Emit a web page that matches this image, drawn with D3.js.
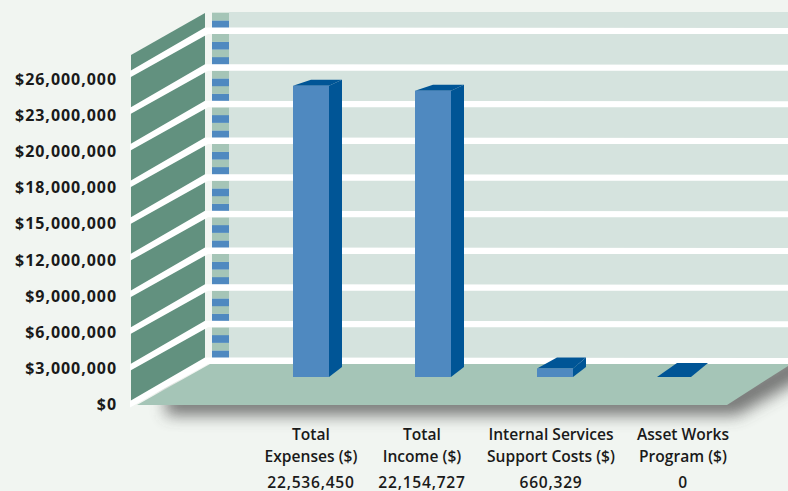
<!DOCTYPE html>
<html>
<head>
<meta charset="utf-8">
<script src="https://cdn.jsdelivr.net/npm/d3@7/dist/d3.min.js"></script>
<style>
  html, body { margin: 0; padding: 0; background: #f1f5f1; overflow: hidden; }
  svg { display: block; }
  text { font-family: "Open Sans", Lato, sans-serif; fill: #1a1a1a; }
</style>
</head>
<body>
<svg id="chart" width="788" height="491"></svg>
<script>
// Budget summary as a pseudo-3D column chart.
const tickLabels = ["$0", "$3,000,000", "$6,000,000", "$9,000,000", "$12,000,000",
  "$15,000,000", "$18,000,000", "$20,000,000", "$23,000,000", "$26,000,000"];
const categoryLine1 = ["Total", "Total", "Internal Services", "Asset Works"];
const categoryLine2 = ["Expenses ($)", "Income ($)", "Support Costs ($)", "Program ($)"];
const amounts = [22536450, 22154727, 660329, 0];

const W = 788, H = 491;
const svg = d3.select("#chart");
const poly = pts => pts.map(p => p.join(",")).join(" ");

// Room geometry
const wallFront = 131, wallBack = 205, stripeL = 212, stripeR = 229, backTop = 12;
const lineW = 6, wallRise = 43;

// Grid levels run by tick position; the short band above the last level is open-topped.
const levels = d3.range(tickLabels.length);
const yLine = d3.scaleLinear().domain([0, 9]).range([361, 31]);
const yLabel = d3.scaleLinear().domain([0, 9]).range([404, 79]);

// Column scale and horizontal slots
const barBase = 377, barWidth = 36;
const yBar = d3.scaleLinear().domain([0, 26000000]).range([barBase, barBase - 336]);
const xBar = d3.scalePoint().domain(d3.range(amounts.length)).range([293, 659]);
const labelX = d3.scaleOrdinal().domain(d3.range(amounts.length)).range([311, 422, 551, 683]);

const defs = svg.append("defs");
defs.append("filter").attr("id", "soft").attr("x", "-10%").attr("y", "-30%").attr("width", "120%").attr("height", "170%")
  .append("feGaussianBlur").attr("stdDeviation", 8);

// Drop shadow below the floor
svg.append("polygon")
  .attr("points", poly([[166, 392], [725, 392], [800, 350], [810, 374], [737, 415], [166, 415]]))
  .attr("fill", "#444").attr("opacity", 0.72).attr("filter", "url(#soft)");

// Back wall
svg.append("rect").attr("x", stripeR).attr("y", backTop).attr("width", W - stripeR).attr("height", 352).attr("fill", "#d5e3de");

// Side wall, then the white ledges cut across it
svg.append("polygon")
  .attr("points", poly([[wallFront, 55], [wallBack, backTop + 1], [wallBack, 361], [wallFront, 404]]))
  .attr("fill", "#62917f");

// Alternating stripes on the wall edge, four per band (two in the short top band)
const stripeH = (yLine(0) - yLine(1) - lineW) / 4;
const stripes = [];
levels.forEach(i => {
  const bottom = yLine(i) - lineW / 2;
  const count = i === 9 ? 2 : 4;
  d3.range(count).forEach(k => stripes.push({ y: bottom - (k + 1) * stripeH, blue: k % 2 === 0 }));
});
svg.append("g").selectAll("rect").data(stripes).join("rect")
  .attr("x", stripeL).attr("width", stripeR - stripeL)
  .attr("y", d => d.y).attr("height", stripeH + 0.2)
  .attr("fill", d => d.blue ? "#4f89c0" : "#a5c5b7");

// Floor
svg.append("polygon")
  .attr("points", poly([[137, 405], [wallBack + 5, 364], [W, 364], [W, 366], [727, 405]]))
  .attr("fill", "#a5c5b7");

// White ledges along the side wall and the back wall
const ledges = svg.append("g");
ledges.selectAll("polygon").data(levels).join("polygon")
  .attr("points", i => poly([
    [wallFront - 1, yLine(i) + wallRise + lineW / 2 + 0.5],
    [wallBack + 3, yLine(i) + lineW / 2],
    [W, yLine(i) + lineW / 2],
    [W, yLine(i) - lineW / 2],
    [wallBack, yLine(i) - lineW / 2 - 0.5],
    [wallFront - 1, yLine(i) + wallRise - lineW / 2]
  ]))
  .attr("fill", "#ffffff");

// Columns: front face, side face and cap
const depthX = 13, baseRise = 10;
const blueFront = "#4f89c0", blueDark = "#005596";
const bars = svg.append("g").selectAll("g").data(amounts).join("g");
bars.each(function (v, i) {
  const g = d3.select(this);
  const x0 = xBar(i), x1 = x0 + barWidth, top = yBar(v);
  if (v === 0) {
    // An empty column is only its footprint on the floor
    g.append("polygon").attr("fill", blueDark)
      .attr("points", poly([[x0 - 2, barBase], [x1 - 4, barBase], [x1 + 13, barBase - 14], [x0 + 18, barBase - 14]]));
    return;
  }
  const tall = (barBase - top) > 50;
  const capRise = tall ? 6 : 11;
  const capSkew = tall ? 18 : 20;
  g.append("polygon").attr("fill", blueDark)
    .attr("points", poly([[x1, top], [x1 + depthX, top - capRise], [x1 + depthX, barBase - baseRise], [x1, barBase]]));
  g.append("polygon").attr("fill", blueDark)
    .attr("points", poly([[x0, top], [x0 + capSkew, top - capRise], [x1 + depthX, top - capRise], [x1, top]]));
  g.append("rect").attr("x", x0).attr("y", top).attr("width", barWidth).attr("height", barBase - top).attr("fill", blueFront);
});

// Value-axis labels
svg.append("g").selectAll("text").data(tickLabels).join("text")
  .attr("x", 117).attr("y", (d, i) => yLabel(i) + 6)
  .attr("text-anchor", "end").attr("font-size", 16).attr("font-weight", 700)
  .attr("letter-spacing", 0.95)
  .text(d => d);

// Category labels and stated amounts
const fmt = d3.format(",");
const cat = svg.append("g").attr("text-anchor", "middle").attr("font-size", 15.6).attr("font-weight", 600);
cat.selectAll(".l1").data(categoryLine1).join("text").attr("class", "l1")
  .attr("x", (d, i) => labelX(i)).attr("y", 439.5).text(d => d);
cat.selectAll(".l2").data(categoryLine2).join("text").attr("class", "l2")
  .attr("x", (d, i) => labelX(i)).attr("y", 461.5).text(d => d);
cat.selectAll(".v").data(amounts).join("text").attr("class", "v")
  .attr("x", (d, i) => labelX(i)).attr("y", 487.5).attr("letter-spacing", 0.75).text(d => fmt(d));
</script>
</body>
</html>
